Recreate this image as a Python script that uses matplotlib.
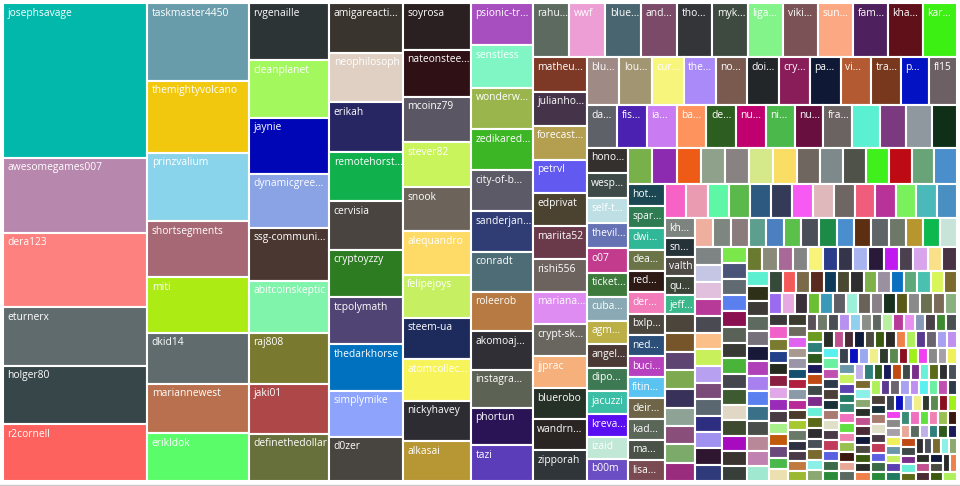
import matplotlib.pyplot as plt
from matplotlib.patches import Rectangle
from matplotlib.lines import Line2D

# labels as shown in the chart (long names are cut off with "...")
top_labels = [
    "josephsavage", "awesomegames007", "dera123", "eturnerx", "holger80", "r2cornell",
    "taskmaster4450", "themightyvolcano", "prinzvalium", "shortsegments", "miti", "dkid14",
    "mariannewest", "erikldok",
    "rvgenaille", "cleanplanet", "jaynie", "dynamicgree...", "ssg-communi...", "abitcoinskeptic",
    "raj808", "jaki01", "definethedollar",
    "amigareacti...", "neophilosoph", "erikah", "remotehorst...", "cervisia", "cryptoyzzy",
    "tcpolymath", "thedarkhorse", "simplymike", "d0zer",
    "soyrosa", "nateonstee...", "mcoinz79", "stever82", "snook", "alequandro", "felipejoys",
    "steem-ua", "atomcollec...", "nickyhavey", "alkasai",
    "psionic-tr...", "senstless", "wonderw...", "zedikared...", "city-of-b...", "sanderjan...",
    "conradt", "roleerob", "akomoaj...", "instagra...", "phortun", "tazi",
]
top_values = [
    223, 108, 107, 84.5, 84, 82,
    79, 73, 69, 57, 56, 52, 50, 48.5,
    46, 46, 45, 43.5, 42.5, 42, 41, 40, 38,
    36.5, 36.4, 36.3, 36, 35.6, 35, 34.4, 34, 33.6, 32.5,
    32, 31.8, 31.3, 30.6, 30, 29.7, 29.2, 28.6, 28.3, 27.4, 27.2,
    26.2, 26, 25.6, 25.4, 25.3, 25.1, 24.8, 24.2, 23.7, 23.5, 23.3, 22,
]

mid_labels = [
    "rahu...", "wwf", "blue...", "and...", "tho...", "myk...", "liga...", "viki...", "sun...",
    "fam...", "kha...", "kar...",
    "matheu...", "julianho...", "forecast...", "petrvl", "edprivat", "mariita52", "rishi556",
    "mariana...", "crypt-sk...", "jjprac", "bluerobo", "wandrn...", "zipporah",
    "blu...", "lou...", "cur...", "the...", "no...", "doi...", "cry...", "pa...", "vi...",
    "tra...", "p...", "fl15",
    "da...", "fis...", "ia...", "ba...", "de...", "nu...", "ni...", "nu...", "fra...", "", "", "", "",
    "hono...", "wesp...", "self-t...", "thevil...", "o07", "ticket...", "cuba...", "agm...",
    "angel...", "dipo...", "jacuzzi", "kreva...", "izaid", "b00m",
    "", "", "", "", "", "", "", "", "", "", "", "", "", "",
    "hot...", "spar...", "dwi...", "dea...", "red...", "der...", "bxlp...", "ned...", "buci...",
    "fitin...", "deir...", "kad...", "ma...", "lisa...",
    "", "", "", "", "", "", "", "", "", "", "", "", "", "",
    "kh...", "sn...", "valth", "qu...", "jeff...", "", "", "", "", "", "", "", "", "",
]
mid_values = [
    19.7, 19.6, 19.5, 19.4, 19.3, 19.2, 19.1, 19.0, 19.0, 18.9, 18.8, 18.7,
    18.6, 18.4, 18.2, 18.0, 17.9, 17.8, 17.6, 17.5, 17.3, 17.1, 16.9, 16.7, 16.5,
    15.6, 15.5, 15.4, 15.3, 15.2, 15.1, 15.0, 14.8, 14.4, 14.2, 13.7, 13.4,
    12.7, 12.6, 12.6, 12.6, 12.5, 12.5, 12.2, 12.2, 12.2, 11.8, 11.0, 10.9, 10.5,
    10.4, 10.3, 10.2, 10.1, 10.0, 9.9, 9.8, 9.7, 9.6, 9.5, 9.4, 9.2, 9.1, 9.0,
    8.9, 8.9, 8.8, 8.8, 8.7, 8.7, 8.6, 8.5, 8.5, 8.4, 8.3, 8.3, 8.2, 8.2,
    8.1, 8.0, 8.0, 7.9, 7.9, 7.9, 7.8, 7.8, 7.8, 7.7, 7.7, 7.6, 7.6, 7.6,
    7.3, 7.3, 7.2, 7.2, 7.2, 7.1, 7.1, 7.1, 7.0, 7.0, 7.0, 6.9, 6.9, 6.9,
    5.8, 5.8, 5.8, 5.7, 5.7, 5.6, 5.6, 5.6, 5.6, 5.5, 5.5, 5.5, 5.5, 5.5,
]

# unlabelled small accounts
small_values = [
    5.2, 5.2, 5.2, 5.1, 5.1, 5.1, 5.1, 5.1, 5.0, 5.0, 5.0, 5.0, 5.0, 4.9, 4.9,
    4.7, 4.7, 4.6, 4.6, 4.6, 4.5, 4.5, 4.5, 4.5, 4.5, 4.4, 4.4, 4.4, 4.4,
    4.1, 4.0, 4.0, 4.0, 4.0, 3.9, 3.9, 3.9, 3.9, 3.9, 3.9, 3.9, 3.8, 3.8, 3.8,
    3.7, 3.7, 3.7, 3.6, 3.6, 3.6, 3.6, 3.6, 3.6, 3.6, 3.5, 3.5, 3.5, 3.5,
    3.3, 3.3, 3.3, 3.3, 3.3, 3.3, 3.3, 3.3, 3.3, 3.3, 3.3, 3.3, 3.3, 3.3,
    2.95, 2.95, 2.95, 2.95, 2.9, 2.9, 2.9, 2.9, 2.9, 2.9, 2.9, 2.85, 2.85, 2.85,
    2.75, 2.75, 2.7, 2.7, 2.7, 2.7, 2.65, 2.65, 2.65, 2.65, 2.6, 2.6, 2.6, 2.6, 2.6,
    2.35, 2.3, 2.3, 2.3, 2.3, 2.25, 2.25, 2.25, 2.25, 2.2, 2.2, 2.2, 2.2, 2.2, 2.2,
    2.0, 2.0, 1.95, 1.95, 1.95, 1.9, 1.9, 1.9, 1.9, 1.9, 1.9, 1.9, 1.85, 1.85, 1.85, 1.85,
    1.85, 1.85, 1.85, 1.85, 1.83, 1.83, 1.83, 1.83, 1.83, 1.81, 1.81, 1.81, 1.81, 1.81,
]
tail_values = [
    1.79, 1.79, 1.78, 1.78, 1.78, 1.77, 1.77, 1.76, 1.76, 1.76, 1.75, 1.75, 1.75, 1.74, 1.74,
    1.73, 1.73, 1.72, 1.72, 1.71, 1.71, 1.70, 1.70, 1.70, 1.69, 1.69, 1.68, 1.68, 1.67, 1.67,
    1.66, 1.66, 1.65, 1.65, 1.65, 1.64, 1.64, 1.63, 1.63, 1.62, 1.62, 1.61, 1.61, 1.60, 1.60,
    1.60, 1.59, 1.59, 1.58, 1.58, 1.57, 1.57, 1.56, 1.56, 1.55, 1.55, 1.55, 1.54, 1.54, 1.53,
    1.53, 1.52, 1.52, 1.51, 1.51, 1.50, 1.50, 1.50, 1.49, 1.49, 1.49, 1.48, 1.48, 1.48, 1.47,
    1.47, 1.47, 1.46, 1.46, 1.46, 1.45, 1.45, 1.45, 1.44, 1.44, 1.44, 1.43, 1.43, 1.43, 1.42,
    1.42, 1.42, 1.41, 1.41, 1.41, 1.40, 1.40, 1.40, 1.39, 1.39, 1.39, 1.38, 1.38, 1.38, 1.37,
    1.37, 1.37, 1.36, 1.36, 1.36, 1.35, 1.35, 1.35, 1.34, 1.34, 1.34, 1.33, 1.33, 1.33, 1.32,
    1.32, 1.32, 1.31, 1.31, 1.31, 1.30, 1.30, 1.30, 1.29, 1.29, 1.29, 1.28, 1.28, 1.28, 1.27,
    1.27, 1.27, 1.26, 1.26, 1.26, 1.25, 1.25, 1.25, 1.24, 1.24, 1.24, 1.23, 1.23, 1.22, 1.22,
]

top_colors = [
    '#01B8AA', '#B887AD', '#FD817E', '#5F6B6D', '#374649', '#FD625E',
    '#689CAB', '#F2C80F', '#8AD4EB', '#A66874', '#ACEC14', '#5F6B6D', '#B9704F', '#5BFC6A',
    '#2D3436', '#A3F85E', '#0005B5', '#8AA3E4', '#4A3731', '#80F4AA', '#797A2F', '#AE4848', '#67703A',
    '#39342E', '#DFD0C3', '#282563', '#10B04C', '#4A4440', '#2D7C22', '#504474', '#0071BF', '#8EA4FC', '#48443F',
    '#2A2022', '#2F1014', '#5B5663', '#C9F45B', '#6C645A', '#FEDB67', '#C6F062', '#1D2B5C', '#F6F45A', '#2E2C33', '#B79634',
    '#A74FBF', '#7FF6C4', '#9AB54C', '#3CB624', '#5C5A66', '#2F3D74', '#4D6C75', '#B67A42', '#2F2F35', '#5C6355', '#2B1456', '#5B3CB9',
]
mid_colors = [
    '#5D6A60', '#ED9FD5', '#49656F', '#7A4A68', '#333538', '#3E4A3F', '#82F489', '#7B5256', '#FCA883', '#4E205E', '#601019', '#3BF012',
    '#7D3926', '#453449', '#B49E50', '#6159F0', '#4C4230', '#6A394A', '#6C625E', '#DF8CF2', '#69665F', '#F5B07B', '#253026', '#2A2522', '#2F3538',
    '#9F8A85', '#A29571', '#F8F57D', '#AA8AF8', '#7A5A4E', '#222629', '#891D59', '#0F1935', '#B35A32', '#78381D', '#0313C3', '#6D6064',
    '#5E6268', '#4B21B1', '#C97BF1', '#FE935E', '#2C5F1F', '#C0006E', '#4BB84C', '#690F3F', '#6B6262', '#5CF0D2', '#7B3A80', '#8F979F', '#0F2F18',
    '#34302E', '#3E4A47', '#BEDFE3', '#6573B4', '#C33B8D', '#3D7A3C', '#89A9B4', '#BBAF45', '#4A3935', '#3D7953', '#3BBEA5', '#590EF2', '#C1E7D6', '#6B4EC4',
    '#78B04A', '#8C2BB0', '#EE5B16', '#8FA08B', '#888382', '#D5E88A', '#FADD64', '#6F675F', '#7E898B', '#4E5249', '#40F01C', '#BE0A13', '#69A479', '#4A8ECB',
    '#1B4753', '#2F7B52', '#30B797', '#6B7446', '#2D1A15', '#F27BBA', '#4A463E', '#2B4F79', '#B740BE', '#5BC3F2', '#6E6448', '#5A6658', '#4A5248', '#7A4A52',
    '#F762C6', '#EA9BB2', '#5DF7A6', '#5BB84A', '#2D5880', '#343B58', '#F75AF2', '#DFB8BC', '#6E6662', '#EF5C7C', '#B73399', '#7AF05C', '#4BB9B9', '#4A8FC2',
    '#7D847F', '#253238', '#4E4A46', '#3C4438', '#3AB78B', '#4B453B', '#77552B', '#5E4470', '#7DAA50', '#38325A', '#8EA296', '#8A4E7A', '#7BAA6A', '#9A2C7E',
]
small_colors = [
    '#EFAF9E', '#7E8680', '#8A7C7C', '#5E9E8E', '#4A80C0', '#5BC04A', '#4A4E58', '#1D8A48', '#4A8ECE', '#5C2F13', '#5E6468', '#6E7868', '#B8962E', '#0DB84E', '#C8E4D8',
    '#7E8484', '#C4C6E4', '#E0C0DC', '#B83A98', '#4A4A52', '#FBC08A', '#C8F05A', '#B8A0F0', '#7A4A78', '#5A6670', '#2E2E80', '#A090F0', '#2E1530', '#2E3A7A',
    '#7AE84A', '#4A5478', '#606A70', '#5A80F0', '#8A1050', '#5A6258', '#3A3A35', '#4AB43A', '#454550', '#3E5A30', '#E0D8C4', '#3E4A30', '#A80AC0', '#3A3430', '#383E3A',
    '#6A7A30', '#8A8A7A', '#A86898', '#848484', '#F8F47A', '#2A3C8A', '#34344A', '#A8B4F0', '#2A1A3A', '#C01AF0', '#4A4050', '#D8A4EC', '#FBE08A', '#483244',
    '#5CF0D0', '#2E3018', '#3E3A38', '#5E6A60', '#76707A', '#181838', '#B040B8', '#A880F0', '#5A80F0', '#3A7088', '#4A4E4A', '#B88898', '#C080B0', '#A0E8D0',
    '#364A3A', '#F55A5A', '#7A6A4A', '#5A2A1E', '#0E3A5A', '#4A4830', '#2E2E2E', '#80B04A', '#9A90A0', '#0A70C0', '#5EA87A', '#4AC0B0', '#D8F55A', '#7A6A30',
    '#9A6AF0', '#E8A8E0', '#3A2E3A', '#6AC030', '#3A98B8', '#5E5E64', '#9AF0D8', '#6A6258', '#8A8088', '#18301E', '#5A5A18', '#8A8A8A', '#6A7050', '#7A6A58', '#8AB080',
    '#3A3838', '#F060C8', '#7A7A30', '#23408A', '#252A20', '#8A2040', '#E0A8E8', '#9A2AB8', '#4A3A44', '#A8F08A', '#C05A0A', '#6A4A7A', '#4AB84A', '#ECE0B0', '#3A3A2E',
    '#6E6A5E', '#E060F0', '#A89A90', '#9A96A8', '#14506E', '#B0203E', '#8A9AA8', '#B82A98', '#4A3A2A', '#A8C830', '#6A7A68', '#2E3040', '#4A3A48', '#C07A40', '#9AB830', '#5A5058',
    '#6E7A6A', '#4A4E54', '#B890F0', '#90D0EE', '#8A9088', '#5E6660', '#B8F0A0', '#B83A98', '#E890F0', '#8A98B8', '#4A4048', '#3E8A2E', '#4A5050', '#6A9A20',
]
tail_palette = [
    '#2F7F7A', '#2E5A1E', '#1A1A5A', '#C04A14', '#3E4A48', '#7A2E8A', '#6AF0D8', '#5A6A18',
    '#2E2E30', '#4A5058', '#7A6A30', '#8AF0E8', '#8AA870', '#2A2E28', '#C05090', '#4A2A34',
    '#101A3A', '#4A4A40', '#3A5A10', '#2A2A28', '#F0804A', '#AEF05A', '#5A3A90', '#6A6470',
    '#A8A0F0', '#C090F0', '#5AF0F0', '#6AF0A0', '#C050B0', '#2E3A4A', '#4A4038', '#183038',
    '#A87A70', '#E0E0C8', '#4A3A48', '#C03A5A', '#5A60E0', '#3A6A48', '#2A8A3A', '#3A4250',
    '#0A10C0', '#9AA8F0', '#F0F08A', '#2E3A2E', '#5A8A50', '#8A1020', '#A0F01A', '#F040F0',
    '#8A8A8A', '#A8A0A8', '#F0F05A', '#6A98A8', '#C8F060', '#5A40B0', '#1E7A60', '#3A8A78',
    '#F070C0', '#60E040', '#F080B0', '#9AC050', '#3A1810', '#E8A898', '#5A6A60', '#C0B0E8',
]


def squarify(vals, x0, y0, x1, y1, ratio=(1 + 5 ** 0.5) / 2):
    # d3-style squarified layout (golden ratio target)
    rects = []
    n = len(vals)
    remaining = sum(vals)
    i0 = 0
    while i0 < n:
        dx, dy = x1 - x0, y1 - y0
        i1 = i0 + 1
        s = vals[i0]
        vmin = vmax = s
        alpha = max(dy / dx, dx / dy) / (remaining * ratio)
        beta = s * s * alpha
        best = max(vmax / beta, beta / vmin)
        while i1 < n:
            v = vals[i1]
            s2 = s + v
            lo, hi = min(vmin, v), max(vmax, v)
            beta = s2 * s2 * alpha
            r = max(hi / beta, beta / lo)
            if r > best:
                break
            s, vmin, vmax, best = s2, lo, hi, r
            i1 += 1
        row = vals[i0:i1]
        if dx < dy:
            h = dy * s / remaining if i1 < n else dy
            x = x0
            for v in row:
                w = dx * v / s
                rects.append((x, y0, w, h))
                x += w
            y0 += h
        else:
            w = dx * s / remaining if i1 < n else dx
            y = y0
            for v in row:
                h = dy * v / s
                rects.append((x0, y, w, h))
                y += h
            x0 += w
        remaining -= s
        i0 = i1
    return rects


values = top_values + mid_values + small_values + tail_values
labels = top_labels + mid_labels + [""] * (len(small_values) + len(tail_values))
colors = top_colors + mid_colors + small_colors
colors += [tail_palette[i % len(tail_palette)] for i in range(len(tail_values))]

W, H = 954, 478
fig = plt.figure(figsize=(9.6, 4.86), dpi=100)
ax = fig.add_axes([3 / 960, 5 / 486, W / 960, H / 486])
ax.set_xlim(0, W)
ax.set_ylim(H, 0)
ax.axis('off')

for (x, y, w, h), lab, c in zip(squarify(values, 0, 0, W, H), labels, colors):
    rect = Rectangle((x, y), w, h, facecolor=c, edgecolor='white', linewidth=1.5)
    ax.add_patch(rect)
    if lab:
        t = ax.text(x + 4.5, y + 4.5, lab, color='white', fontsize=7.35,
                    family=['Open Sans', 'DejaVu Sans'], va='top', ha='left')
        t.set_clip_path(rect)

fig.add_artist(Line2D([0, 1], [1.5 / 486, 1.5 / 486], color='#C8C8C8', lw=1,
                      transform=fig.transFigure))

fig.savefig('out.png', dpi=100, facecolor='white')
